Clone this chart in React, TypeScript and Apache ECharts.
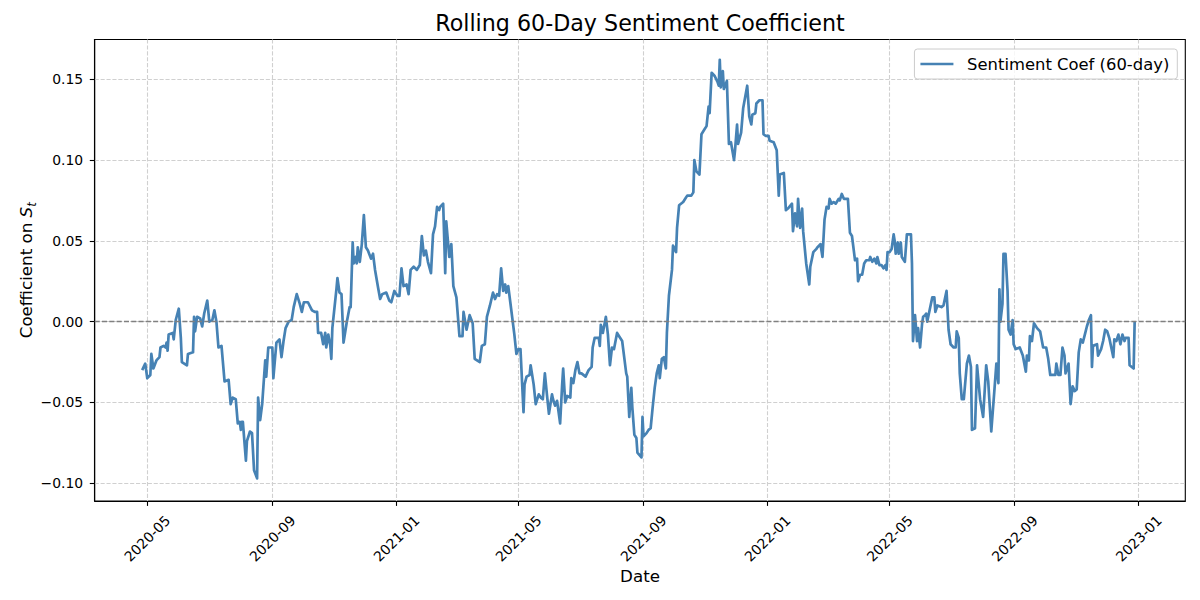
import React, { useEffect, useRef } from "react";
import * as echarts from "echarts";

const FONT = "'DejaVu Sans', 'Noto Sans', sans-serif";

const chartTitle = "Rolling 60-Day Sentiment Coefficient";
const seriesName = "Sentiment Coef (60-day)";
const xAxisName = "Date";

// Day 0 of the offsets below is 2020-05-01
const startYear = 2020;
const startMonth = 5;
const startDay = 1;

// Days since 2020-05-01 for each observation
const dayOffsets = [
  -5, -2, 0, 3, 4, 6, 9, 12, 13, 16, 18, 19, 20, 21, 25, 26, 28, 31, 33, 34,
  39, 40, 45, 46, 47, 49, 52, 54, 56, 59, 61, 64, 66, 68, 70, 73, 76, 80, 82, 84,
  87, 89, 91, 92, 93, 94, 97, 98, 101, 103, 105, 108, 109, 111, 113, 116, 117, 119, 123, 124,
  127, 130, 132, 134, 136, 139, 142, 144, 147, 150, 152, 154, 158, 162, 165, 167, 168, 171, 173, 175,
  176, 178, 180, 181, 182, 186, 187, 189, 191, 193, 196, 199, 200, 202, 203, 205, 206, 207, 209, 211,
  213, 215, 217, 220, 222, 224, 227, 229, 231, 235, 238, 240, 243, 246, 248, 250, 252, 255, 257, 259,
  262, 265, 268, 270, 272, 274, 276, 279, 281, 283, 285, 287, 288, 291, 293, 294, 297, 299, 301, 304,
  307, 310, 311, 314, 317, 320, 322, 327, 329, 332, 334, 337, 340, 342, 344, 346, 348, 350, 352, 353,
  355, 357, 361, 363, 365, 367, 370, 371, 373, 376, 377, 380, 382, 385, 387, 389, 391, 393, 395, 398,
  399, 401, 403, 406, 408, 409, 411, 413, 416, 417, 419, 421, 423, 425, 427, 431, 434, 437, 438, 440,
  444, 445, 446, 448, 451, 453, 455, 457, 459, 462, 464, 467, 469, 471, 472, 474, 476, 477, 479, 481,
  482, 486, 487, 488, 491, 493, 495, 497, 499, 501, 503, 504, 506, 508, 510, 511, 513, 516, 517, 520,
  521, 523, 527, 529, 531, 535, 537, 538, 540, 543, 545, 548, 550, 552, 553, 555, 558, 561, 562, 563,
  564, 566, 567, 570, 572, 574, 577, 578, 580, 581, 584, 586, 588, 590, 592, 594, 595, 598, 599, 602,
  605, 606, 608, 611, 612, 616, 619, 621, 622, 626, 628, 630, 634, 635, 637, 639, 640, 642, 644, 645,
  648, 651, 652, 655, 658, 659, 662, 664, 666, 668, 670, 671, 673, 675, 677, 680, 681, 683, 685, 689,
  691, 693, 696, 698, 699, 701, 703, 705, 707, 710, 711, 713, 715, 717, 718, 720, 722, 724, 726, 727,
  728, 730, 732, 734, 735, 736, 738, 739, 741, 742, 745, 747, 751, 752, 753, 755, 757, 758, 760, 762,
  763, 765, 766, 767, 770, 772, 774, 775, 777, 781, 783, 786, 788, 790, 793, 795, 796, 798, 799, 801,
  803, 806, 808, 810, 811, 814, 816, 819, 822, 825, 827, 830, 833, 835, 837, 838, 839, 841, 842, 844,
  846, 847, 849, 851, 852, 854, 858, 861, 864, 865, 867, 868, 870, 872, 875, 878, 881, 884, 886, 888,
  893, 894, 896, 898, 900, 902, 903, 906, 908, 910, 912, 914, 916, 918, 920, 922, 924, 926, 928, 929,
  930, 934, 935, 938, 940, 942, 944, 946, 948, 950, 951, 953, 955, 957, 959, 961, 962, 965, 966, 970,
  971,
];

// Rolling 60-day sentiment coefficient
const coefValues = [
  -0.030, -0.026, -0.035, -0.033, -0.020, -0.029, -0.024, -0.022, -0.016, -0.015, -0.016, -0.013, -0.018, -0.008, -0.007, -0.011, 0.001, 0.008, -0.010, -0.025,
  -0.027, -0.020, -0.019, 0.003, -0.006, 0.003, 0.002, -0.003, 0.005, 0.013, 0.000, 0.001, 0.007, 0.000, -0.016, -0.015, -0.037, -0.036, -0.051, -0.047,
  -0.048, -0.063, -0.062, -0.067, -0.062, -0.062, -0.086, -0.074, -0.068, -0.069, -0.092, -0.097, -0.047, -0.061, -0.051, -0.024, -0.034, -0.016, -0.016, -0.035,
  -0.013, -0.011, -0.022, -0.012, -0.004, 0.000, 0.001, 0.009, 0.017, 0.011, 0.006, 0.012, 0.012, 0.007, 0.006, 0.006, -0.007, -0.007, -0.014, -0.007,
  -0.016, -0.008, -0.015, -0.023, -0.004, 0.020, 0.027, 0.018, 0.017, -0.013, -0.001, 0.009, 0.009, 0.049, 0.036, 0.040, 0.036, 0.046, 0.037, 0.048,
  0.066, 0.046, 0.044, 0.039, 0.042, 0.032, 0.021, 0.014, 0.017, 0.018, 0.013, 0.012, 0.019, 0.016, 0.016, 0.033, 0.022, 0.023, 0.017, 0.032,
  0.034, 0.032, 0.035, 0.053, 0.041, 0.044, 0.037, 0.030, 0.054, 0.059, 0.071, 0.069, 0.071, 0.073, 0.030, 0.062, 0.040, 0.048, 0.022, 0.015,
  -0.009, -0.009, 0.006, -0.005, 0.004, -0.001, -0.023, -0.025, -0.015, -0.014, 0.003, 0.010, 0.018, 0.014, 0.017, 0.016, 0.033, 0.019, 0.023, 0.018,
  0.022, 0.012, -0.008, -0.020, -0.017, -0.017, -0.056, -0.039, -0.034, -0.033, -0.027, -0.039, -0.051, -0.045, -0.047, -0.048, -0.032, -0.045, -0.057, -0.045,
  -0.048, -0.052, -0.049, -0.063, -0.039, -0.029, -0.050, -0.046, -0.047, -0.035, -0.038, -0.030, -0.025, -0.032, -0.032, -0.034, -0.030, -0.028, -0.016, -0.010,
  -0.010, -0.015, -0.002, -0.007, 0.003, -0.008, -0.027, -0.016, -0.017, -0.007, -0.009, -0.012, -0.022, -0.032, -0.034, -0.059, -0.041, -0.053, -0.070, -0.072,
  -0.081, -0.084, -0.059, -0.071, -0.069, -0.067, -0.066, -0.053, -0.041, -0.032, -0.027, -0.035, -0.023, -0.022, -0.029, -0.007, 0.016, 0.032, 0.047, 0.043,
  0.058, 0.072, 0.074, 0.076, 0.078, 0.078, 0.080, 0.100, 0.093, 0.091, 0.116, 0.119, 0.121, 0.133, 0.129, 0.154, 0.152, 0.148, 0.146, 0.162,
  0.145, 0.155, 0.144, 0.149, 0.110, 0.111, 0.100, 0.106, 0.122, 0.110, 0.117, 0.132, 0.139, 0.146, 0.127, 0.122, 0.128, 0.129, 0.135, 0.137,
  0.137, 0.116, 0.115, 0.115, 0.112, 0.111, 0.106, 0.078, 0.091, 0.092, 0.069, 0.070, 0.073, 0.056, 0.067, 0.059, 0.076, 0.058, 0.070, 0.056,
  0.036, 0.023, 0.034, 0.043, 0.045, 0.046, 0.048, 0.040, 0.063, 0.071, 0.070, 0.076, 0.073, 0.074, 0.073, 0.076, 0.075, 0.079, 0.076, 0.076,
  0.055, 0.053, 0.038, 0.039, 0.025, 0.029, 0.029, 0.036, 0.038, 0.038, 0.040, 0.037, 0.039, 0.036, 0.040, 0.035, 0.035, 0.033, 0.035, 0.032,
  0.043, 0.043, 0.045, 0.054, 0.050, 0.042, 0.049, 0.042, 0.049, 0.040, 0.037, 0.054, 0.054, 0.036, -0.012, 0.004, -0.012, -0.004, -0.016, -0.001,
  0.003, 0.004, 0.005, 0.000, 0.009, 0.015, 0.015, 0.006, 0.010, 0.009, 0.010, 0.019, -0.005, -0.014, -0.016, -0.016, -0.006, -0.010, -0.032, -0.048,
  -0.048, -0.026, -0.021, -0.028, -0.067, -0.066, -0.027, -0.048, -0.059, -0.027, -0.037, -0.068, -0.043, -0.026, -0.038, 0.020, 0.000, 0.011, 0.042, 0.042,
  0.019, -0.005, -0.008, 0.001, -0.014, -0.017, -0.016, -0.021, -0.031, -0.021, -0.024, -0.009, -0.012, -0.001, -0.004, -0.006, -0.016, -0.016, -0.023, -0.033,
  -0.033, -0.026, -0.033, -0.033, -0.016, -0.021, -0.032, -0.026, -0.051, -0.040, -0.043, -0.042, -0.019, -0.011, -0.013, -0.008, -0.003, 0.001, 0.004, -0.028,
  -0.015, -0.014, -0.021, -0.017, -0.012, -0.005, -0.006, -0.010, -0.016, -0.022, -0.011, -0.012, -0.008, -0.014, -0.008, -0.012, -0.010, -0.010, -0.027, -0.029,
  0.000,
];

const xTickDates = [
  "2020-05-01", "2020-09-01", "2021-01-01", "2021-05-01", "2021-09-01",
  "2022-01-01", "2022-05-01", "2022-09-01", "2023-01-01",
];
const yTickValues = [-0.1, -0.05, 0, 0.05, 0.1, 0.15];

// axis extents (days from start, coefficient)
const xMinDay = -51.7;
const xMaxDay = 1020.8;
const yMin = -0.111;
const yMax = 0.1746;

const DAY_MS = 86400000;
const startMs = Date.UTC(startYear, startMonth - 1, startDay);
const dayToMs = (d: number) => startMs + d * DAY_MS;
const parseDate = (s: string) => {
  const [y, m, d] = s.split("-").map(Number);
  return Date.UTC(y, m - 1, d);
};
const pad2 = (n: number) => (n < 10 ? "0" + n : "" + n);

export default function App() {
  const ref = useRef<HTMLDivElement>(null);

  useEffect(() => {
    if (!ref.current) return;
    const chart = echarts.init(ref.current, undefined, { renderer: "svg" });

    const data = dayOffsets.map((d, i) => [dayToMs(d), coefValues[i]]);
    const xTicks = xTickDates.map(parseDate);

    const option: any = {
      animation: false,
      backgroundColor: "#ffffff",
      textStyle: { fontFamily: FONT },
      title: {
        text: chartTitle,
        left: 640,
        top: 12,
        textAlign: "center",
        padding: 0,
        textStyle: {
          fontFamily: FONT,
          fontSize: 22.2,
          fontWeight: "normal",
          color: "#000000",
        },
      },
      legend: {
        data: [seriesName],
        right: 22.7,
        top: 49,
        icon: "rect",
        itemWidth: 33,
        itemHeight: 2.7,
        padding: [7, 8, 7, 6],
        backgroundColor: "rgba(255,255,255,0.8)",
        borderColor: "#cccccc",
        borderWidth: 1,
        borderRadius: 3,
        selectedMode: false,
        itemStyle: { borderWidth: 0, color: "#4682b4" },
        textStyle: {
          fontFamily: FONT,
          fontSize: 16.4,
          color: "#000000",
          padding: [0, 0, 0, 8.7],
        },
      },
      grid: {
        left: 94.7,
        right: 14.7,
        top: 39.5,
        bottom: 99,
        show: true,
        borderColor: "#000000",
        borderWidth: 1.1,
        backgroundColor: "transparent",
        containLabel: false,
        outerBoundsMode: "none",
      },
      xAxis: {
        type: "value",
        min: dayToMs(xMinDay),
        max: dayToMs(xMaxDay),
        name: xAxisName,
        nameLocation: "middle",
        nameGap: 66,
        nameMoveOverlap: false,
        nameTextStyle: { fontFamily: FONT, fontSize: 16.7, color: "#000000" },
        axisLine: { show: true, onZero: false, lineStyle: { color: "#000000", width: 1.1 } },
        axisTick: {
          show: true,
          inside: false,
          length: 4.9,
          customValues: xTicks,
          lineStyle: { color: "#000000", width: 1.1 },
        },
        axisLabel: {
          customValues: xTicks,
          rotate: 45,
          align: "center",
          verticalAlign: "middle",
          margin: 37.5,
          fontFamily: FONT,
          fontSize: 13.9,
          color: "#000000",
          hideOverlap: false,
          formatter: (v: number) => {
            const dt = new Date(v);
            return dt.getUTCFullYear() + "-" + pad2(dt.getUTCMonth() + 1);
          },
        },
        splitLine: {
          show: true,
          lineStyle: { color: "#d0d0d0", width: 1.1, type: [4.1, 1.8] },
        },
      },
      yAxis: {
        type: "value",
        min: yMin,
        max: yMax,
        name: "{a|Coefficient on }{s|S}{t|t}",
        nameLocation: "middle",
        nameRotate: 90,
        nameGap: 57,
        nameMoveOverlap: false,
        nameTextStyle: {
          color: "#000000",
          rich: {
            a: { fontFamily: FONT, fontSize: 16.7, lineHeight: 24, color: "#000000" },
            s: { fontFamily: FONT, fontSize: 16.7, fontStyle: "italic", lineHeight: 24, color: "#000000" },
            t: {
              fontFamily: FONT,
              fontSize: 11.7,
              fontStyle: "italic",
              lineHeight: 12,
              verticalAlign: "bottom",
              color: "#000000",
            },
          },
        },
        axisLine: { show: true, onZero: false, lineStyle: { color: "#000000", width: 1.1 } },
        axisTick: {
          show: true,
          inside: false,
          length: 4.9,
          customValues: yTickValues,
          lineStyle: { color: "#000000", width: 1.1 },
        },
        axisLabel: {
          customValues: yTickValues,
          margin: 11.5,
          fontFamily: FONT,
          fontSize: 13.9,
          color: "#000000",
          formatter: (v: number) =>
            v < -1e-9 ? "\u2212" + Math.abs(v).toFixed(2) : Math.abs(v).toFixed(2),
        },
        splitLine: {
          show: true,
          lineStyle: { color: "#d0d0d0", width: 1.1, type: [4.1, 1.8] },
        },
      },
      series: [
        {
          name: seriesName,
          type: "line",
          data,
          showSymbol: false,
          symbol: "none",
          color: "#4682b4",
          itemStyle: { color: "#4682b4" },
          lineStyle: { color: "#4682b4", width: 2.7, join: "round" },
          emphasis: { disabled: true },
          markLine: {
            silent: true,
            symbol: ["none", "none"],
            label: { show: false },
            emphasis: { disabled: true },
            lineStyle: { color: "#808080", width: 1.4, type: [5.1, 2.2] },
            data: [{ yAxis: 0 }],
          },
        },
      ],
    };

    chart.setOption(option);
    return () => {
      chart.dispose();
    };
  }, []);

  return (
    <div
      ref={ref}
      style={{ position: "absolute", left: 0, top: 0, width: 1200, height: 600, background: "#fff" }}
    />
  );
}
